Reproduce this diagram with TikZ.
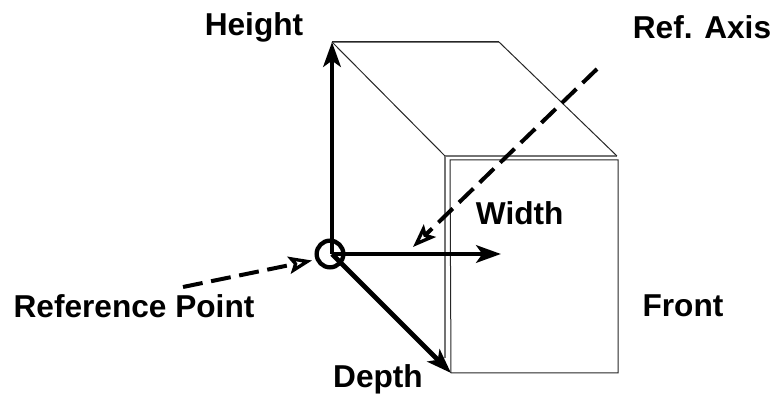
\documentclass[tikz,border=0pt]{standalone}
\usepackage{fontspec}
\setmainfont{Liberation Sans}
\usetikzlibrary{arrows.meta}
\tikzset{
  lbl/.style={font=\fontsize{27}{32}\selectfont\bfseries,inner sep=0pt},
  edge/.style={black!85,line width=.03cm},
  edgegray/.style={black!55,line width=.04cm},
  axis/.style={line width=.14cm,-{Stealth[length=.74cm,width=.52cm,inset=.18cm]}},
  refline/.style={line width=.12cm,dash pattern=on .6cm off .26cm,-{Stealth[open,length=.7cm,width=.52cm,inset=.14cm,line width=.1cm]}}
}
\begin{document}
\begin{tikzpicture}[font=\small]
\useasboundingbox (0,0) rectangle (23.28,12.03);
\coordinate (backleft) at (9.96,10.77);
\coordinate (backright) at (14.97,10.77);
\coordinate (frontouter) at (13.35,7.35);
\coordinate (frontouterright) at (18.51,7.35);
\coordinate (frontin) at (13.5,7.23);
\coordinate (frontright) at (18.54,7.23);
\coordinate (frontbot) at (13.53,.84);
\coordinate (frontbotright) at (18.54,.84);
\coordinate (outerbot) at (13.35,1.3);
\coordinate (origin) at (9.96,4.41);
\coordinate (widthend) at (15.03,4.41);
\coordinate (axisstart) at (17.91,9.96);
\coordinate (axisend) at (12.39,4.62);
\coordinate (pointstart) at (5.49,3.42);
\coordinate (pointend) at (9.36,4.215);
\draw[edgegray] (backleft) -- (backright);
\draw[edgegray] (frontouter) -- (frontouterright);
\draw[edgegray] (frontouter) -- (outerbot);
\draw[edge] (backleft) -- (frontouter);
\draw[edge] (backright) -- (frontouterright);
\draw[edge] (frontin) -- (frontright) -- (frontbotright) -- (frontbot) -- cycle;
\draw[edge] (backleft) -- (backright);
\draw[refline] (axisstart) -- (axisend);
\draw[refline] (pointstart) -- (pointend);
\node[draw,circle,line width=.13cm,minimum size=.8cm,inner sep=0pt] (refpoint) at (9.9,4.41) {};
\draw[axis] (origin) -- (backleft);
\draw[axis] (origin) -- (widthend);
\draw[axis] (origin) -- (frontbot);
\node[lbl] (height) at (7.62,11.22) {Height};
\node[lbl] (refaxis) at (21.06,11.22) {Ref. Axis};
\node[lbl] (width) at (15.59,5.64) {Width};
\node[lbl] (reference) at (4.02,2.85) {Reference Point};
\node[lbl] (front) at (20.49,2.85) {Front};
\node[lbl] (depth) at (11.34,.66) {Depth};
\end{tikzpicture}
\end{document}
